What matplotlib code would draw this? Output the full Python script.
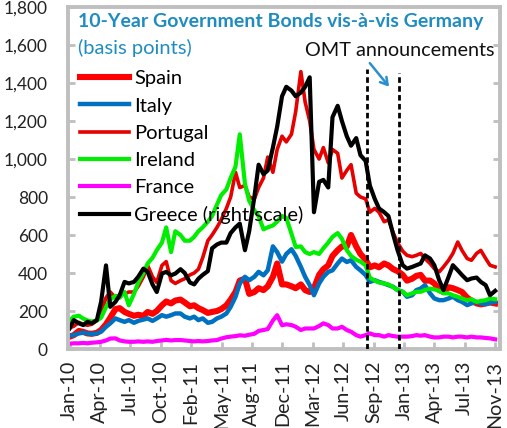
import numpy as np
import pandas as pd
import matplotlib
matplotlib.use("Agg")
import matplotlib.pyplot as plt
import matplotlib.dates as mdates
from matplotlib.ticker import FuncFormatter

plt.rcParams['font.family'] = ['Lato', 'DejaVu Sans']

# semi-monthly sample dates (1st and 15th), Jan 2010 - Nov 2013
dates = pd.date_range("2010-01-01", "2013-11-01", freq="SMS")

# spreads vs Germany, basis points
spain = [65, 73, 95, 90, 82, 80, 85, 100, 130, 165, 210, 215, 195, 185, 175, 180, 175, 195, 185, 200, 230, 250, 240, 255,
         260, 245, 225, 230, 215, 205, 190, 195, 200, 210, 230, 260, 300, 360, 370, 290, 300, 320, 310, 330, 380, 450, 340, 340,
         330, 320, 340, 310, 300, 320, 390, 420, 440, 490, 520, 540, 540, 600, 540, 500, 470, 430, 440, 430, 450, 440, 420, 410,
         390, 360, 370, 385, 390, 360, 360, 345, 310, 300, 325, 320, 310, 300, 270, 255, 240, 235, 240, 245, 240]
italy = [70, 73, 82, 86, 82, 79, 82, 91, 117, 135, 161, 152, 143, 152, 138, 148, 155, 161, 148, 161, 178, 170, 178, 187,
         187, 170, 161, 170, 152, 161, 138, 143, 161, 170, 187, 222, 275, 345, 380, 362, 380, 406, 388, 414, 540, 510, 460, 500,
         525, 490, 432, 380, 336, 283, 345, 380, 406, 414, 450, 476, 458, 467, 432, 414, 389, 353, 362, 353, 345, 336, 327, 310,
         301, 275, 283, 310, 318, 336, 293, 266, 257, 257, 266, 275, 257, 248, 231, 240, 248, 240, 236, 243, 248]
portugal = [110, 120, 140, 130, 125, 130, 150, 190, 270, 300, 270, 285, 290, 300, 300, 330, 380, 440, 380, 350, 440, 460, 360, 345,
            360, 370, 390, 400, 420, 480, 570, 600, 640, 680, 740, 800, 930, 850, 860, 800, 790, 850, 900, 1010, 930, 1050, 1120, 1090,
            1130, 1250, 1460, 1300, 1200, 1050, 1000, 1060, 980, 1050, 1030, 900, 940, 970, 820, 800, 790, 720, 740, 720, 670, 680, 610, 560,
            515, 493, 486, 493, 503, 476, 450, 423, 406, 432, 467, 503, 563, 519, 476, 467, 503, 519, 476, 441, 432]
ireland = [150, 170, 175, 160, 150, 145, 150, 165, 220, 260, 280, 270, 300, 230, 290, 350, 400, 450, 480, 520, 560, 640, 510, 620,
           600, 570, 570, 590, 620, 640, 670, 700, 760, 810, 840, 900, 960, 1130, 870, 780, 730, 700, 630, 640, 650, 670, 700, 690,
           607, 537, 540, 510, 500, 510, 500, 530, 560, 590, 610, 580, 520, 490, 470, 460, 440, 375, 360, 350, 345, 340, 325, 310,
           301, 283, 293, 301, 301, 310, 318, 314, 306, 293, 293, 283, 275, 266, 257, 262, 248, 253, 257, 266, 262]
france = [28, 30, 30, 32, 30, 33, 35, 38, 45, 55, 56, 45, 40, 38, 38, 40, 38, 40, 38, 42, 45, 48, 45, 47,
          47, 45, 42, 40, 42, 40, 42, 45, 47, 55, 62, 65, 68, 72, 70, 75, 80, 95, 100, 105, 150, 178, 125, 130,
          126, 117, 100, 108, 108, 108, 121, 135, 126, 108, 108, 117, 100, 91, 73, 65, 73, 82, 73, 73, 65, 73, 68, 65,
          65, 65, 68, 73, 70, 73, 65, 61, 61, 65, 65, 61, 65, 65, 61, 65, 61, 61, 58, 56, 51]
greece = [108, 152, 135, 126, 143, 135, 152, 250, 440, 222, 248, 283, 353, 345, 353, 380, 423, 406, 340, 300, 397, 406, 388, 397,
          420, 400, 350, 340, 370, 390, 410, 530, 550, 560, 560, 610, 640, 660, 520, 620, 800, 970, 920, 940, 1060, 1170, 1330, 1380,
          1360, 1330, 1350, 1380, 1430, 720, 880, 890, 850, 1220, 1280, 1200, 1120, 1070, 1110, 1020, 990, 860, 790, 740, 720, 700, 600, 520,
          441, 423, 432, 441, 450, 493, 476, 441, 362, 310, 380, 441, 414, 389, 362, 371, 376, 353, 336, 283, 306]

series = [
    ("Spain", spain, "#ff0000", 4.4),
    ("Italy", italy, "#0070c0", 3.2),
    ("Portugal", portugal, "#e60000", 2.6),
    ("Ireland", ireland, "#00ee00", 3.0),
    ("France", france, "#ff00ff", 3.0),
    ("Greece (right scale)", greece, "#000000", 3.0),
]

omt_dates = pd.to_datetime(["2012-09-04", "2012-12-20"])
omt_tops = [1475, 1455]

fig = plt.figure(figsize=(5.07, 4.28), dpi=100)
ax = fig.add_axes([68 / 507, 1 - 349 / 428, 432 / 507, 342 / 428])

for name, vals, col, lw in series:
    ax.plot(dates, vals, color=col, lw=lw, label=name, solid_joinstyle="round")

for d, top in zip(omt_dates, omt_tops):
    ax.vlines(d, 0, top, colors="black", lw=2.0, linestyles=(0, (2.0, 1.2)), zorder=5)

ax.annotate("", xy=(pd.Timestamp("2012-11-23"), 1369), xytext=(pd.Timestamp("2012-09-09"), 1516),
            arrowprops=dict(arrowstyle="->,head_length=0.5,head_width=0.3", color="#2a8fcf", lw=1.8))

ax.set_xlim(pd.Timestamp("2009-12-27"), pd.Timestamp("2013-11-17"))
ax.set_ylim(0, 1800)
ax.set_yticks(np.arange(0, 1801, 200))
ax.yaxis.set_major_formatter(FuncFormatter(lambda v, p: f"{int(v):,}"))
ax.set_xticks(pd.date_range("2010-01-01", periods=15, freq="100D"))
ax.xaxis.set_major_formatter(mdates.DateFormatter("%b-%y"))

gray = "#bfbfbf"
for s in ax.spines.values():
    s.set_color(gray)
    s.set_linewidth(2.8)
ax.tick_params(axis="y", direction="in", length=5, width=2, color=gray, right=True,
               pad=14.5, labelsize=12.5, labelcolor="#222222")
ax.tick_params(axis="x", direction="in", length=5, width=2, color=gray,
               pad=8.5, labelsize=14.2, labelcolor="#222222", labelrotation=90)

blue = "#1f8cc0"
ax.text(0.023, 0.959, "10-Year Government Bonds vis-à-vis Germany", transform=ax.transAxes,
        fontsize=14.0, fontweight="bold", color=blue, va="center", ha="left")
ax.text(0.023, 0.880, "(basis points)", transform=ax.transAxes,
        fontsize=14.5, color=blue, va="center", ha="left")
ax.text(0.988, 0.874, "OMT announcements", transform=ax.transAxes,
        fontsize=14.3, color="#111111", va="center", ha="right")

leg = ax.legend(loc="upper left", bbox_to_anchor=(0.028, 0.815), frameon=False,
                fontsize=14.5, borderaxespad=0, borderpad=0, handlelength=2.44,
                handletextpad=0.25, labelspacing=0.5)

fig.savefig("out.png", dpi=100)
